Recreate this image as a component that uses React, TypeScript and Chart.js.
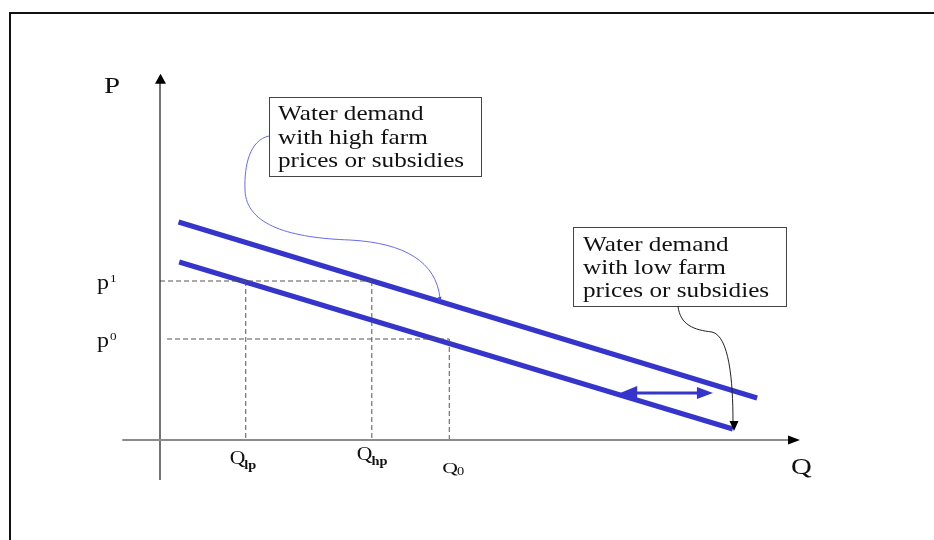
import React, { useEffect, useRef } from "react";
import { Chart, registerables } from "chart.js";

Chart.register(...registerables);

// ---- Data (Q = quantity of water, P = price; arbitrary diagram units) ----
const demandHighQ = [2.9, 93.3];
const demandHighP = [54.5, 10.5];
const demandLowQ = [3.0, 89.5];
const demandLowP = [44.5, 2.75];

const priceLevels = [39.75, 25.25]; // p1, p0
const priceSup = ["1", "0"];
const priceGuideFromQ = [0, 1.1];
const priceGuideToQ = [33.1, 45.2];

const quantityLevels = [13.4, 33.1, 45.2]; // Qlp, Qhp, Q0
const quantitySubs = ["lp", "hp", "0"];
const quantityGuideTopP = [39.75, 39.75, 25.25];

const shiftArrowQ = [71.9, 86.4];
const shiftArrowP = [11.75, 11.75];

const axisQ = [-5.9, 100];
const axisP = [-10, 91.3];

const boxHighText = ["Water demand", "with high farm", "prices or subsidies"];
const boxLowText = ["Water demand", "with low farm", "prices or subsidies"];

// ---- Styling / layout constants ----
const BLUE = "#3535cc";
const FONT = "'Liberation Serif', 'Times New Roman', serif";
const SX = 1.2; // horizontal stretch of the text in the original picture

function zip(qs: number[], ps: number[]) {
  return qs.map((q, i) => ({ x: q, y: ps[i] }));
}

function sText(ctx: CanvasRenderingContext2D, text: string, x: number, y: number, font: string, color = "#111", sx = SX) {
  ctx.save();
  ctx.font = font;
  ctx.fillStyle = color;
  ctx.textBaseline = "alphabetic";
  ctx.textAlign = "left";
  ctx.translate(x, y);
  ctx.scale(sx, 1);
  ctx.fillText(text, 0, 0);
  const w = ctx.measureText(text).width * sx;
  ctx.restore();
  return w;
}

function arrowHead(ctx: CanvasRenderingContext2D, tx: number, ty: number, angle: number, len: number, wid: number, color: string) {
  ctx.save();
  ctx.translate(tx, ty);
  ctx.rotate(angle);
  ctx.beginPath();
  ctx.moveTo(0, 0);
  ctx.lineTo(-len, -wid / 2);
  ctx.lineTo(-len, wid / 2);
  ctx.closePath();
  ctx.fillStyle = color;
  ctx.fill();
  ctx.restore();
}

const qLabelLayout = [
  { dx: -16, y: 464, size: 18, sx: SX, subSize: 12, subBold: true, subDy: 5 },
  { dx: -15, y: 460, size: 18, sx: SX, subSize: 12, subBold: true, subDy: 5 },
  { dx: -7, y: 473, size: 15, sx: 1.45, subSize: 12, subBold: false, subDy: 2 },
];

const diagramPlugin = {
  id: "diagram",
  beforeDraw(chart: any) {
    const ctx = chart.ctx as CanvasRenderingContext2D;
    ctx.save();
    ctx.fillStyle = "#ffffff";
    ctx.fillRect(0, 0, chart.width, chart.height);
    ctx.restore();
  },
  afterDatasetsDraw(chart: any) {
    const ctx = chart.ctx as CanvasRenderingContext2D;
    const xs = chart.scales.x;
    const ys = chart.scales.y;
    const px = (q: number) => xs.getPixelForValue(q);
    const py = (p: number) => ys.getPixelForValue(p);

    // outer frame
    ctx.save();
    ctx.strokeStyle = "#111";
    ctx.lineWidth = 2;
    ctx.beginPath();
    ctx.moveTo(10, chart.height + 2);
    ctx.lineTo(10, 13);
    ctx.lineTo(chart.width + 2, 13);
    ctx.stroke();
    ctx.restore();

    // axis arrowheads
    arrowHead(ctx, px(0) + 0.5, py(axisP[1]) - 1, -Math.PI / 2, 10, 11, "#000");
    arrowHead(ctx, px(axisQ[1]), py(0), 0, 12, 9, "#000");

    // axis titles
    sText(ctx, "P", 104, 93, `24px ${FONT}`);
    sText(ctx, "Q", 791, 474, `24px ${FONT}`);

    // price labels
    priceLevels.forEach((p, i) => {
      const y = py(p);
      const w = sText(ctx, "p", 97, y + 8, `20px ${FONT}`);
      sText(ctx, priceSup[i], 97 + w + 1, y + 1, `11px ${FONT}`);
    });

    // quantity labels
    quantityLevels.forEach((q, i) => {
      const L = qLabelLayout[i];
      const x = px(q) + L.dx;
      const w = sText(ctx, "Q", x, L.y, `${L.size}px ${FONT}`, "#111", L.sx);
      sText(ctx, quantitySubs[i], x + w - 1, L.y + L.subDy, `${L.subBold ? "bold " : ""}${L.subSize}px ${FONT}`);
    });

    // shift arrow heads
    const ay = py(shiftArrowP[0]);
    arrowHead(ctx, px(shiftArrowQ[0]), ay, Math.PI, 17, 14, BLUE);
    arrowHead(ctx, px(shiftArrowQ[1]), ay, 0, 16, 12, BLUE);

    // text boxes
    const drawBox = (x: number, y: number, w: number, h: number, lines: string[], tx: number, baselines: number[]) => {
      ctx.save();
      ctx.fillStyle = "#fff";
      ctx.fillRect(x, y, w, h);
      ctx.strokeStyle = "#444";
      ctx.lineWidth = 1;
      ctx.strokeRect(x + 0.5, y + 0.5, w, h);
      ctx.restore();
      lines.forEach((t, i) => sText(ctx, t, tx, baselines[i], `21px ${FONT}`));
    };
    drawBox(269, 97, 212, 79, boxHighText, 278, [120, 144, 167]);
    drawBox(573, 227, 213, 79, boxLowText, 583, [251, 274, 297]);

    // callout: high demand (blue, thin)
    ctx.save();
    ctx.strokeStyle = "#6a6af0";
    ctx.lineWidth = 1;
    ctx.beginPath();
    ctx.moveTo(269, 136);
    ctx.bezierCurveTo(250, 140, 244, 165, 245, 190);
    ctx.bezierCurveTo(246, 226, 292, 238, 350, 240);
    ctx.bezierCurveTo(405, 243, 436, 262, 440, 298);
    ctx.stroke();
    ctx.restore();
    arrowHead(ctx, 440, 302, Math.PI / 2 - 0.08, 5, 4, "#4a4ae0");

    // callout: low demand (black, thin)
    ctx.save();
    ctx.strokeStyle = "#222";
    ctx.lineWidth = 1;
    ctx.beginPath();
    ctx.moveTo(678, 306);
    ctx.bezierCurveTo(680, 325, 694, 330, 712, 332);
    ctx.bezierCurveTo(729, 336, 733, 380, 733, 422);
    ctx.stroke();
    ctx.restore();
    arrowHead(ctx, 734, 431, Math.PI / 2, 10, 9, "#000");
  },
};

export default function App() {
  const ref = useRef<HTMLCanvasElement | null>(null);

  useEffect(() => {
    if (!ref.current) return;
    const guide = { borderColor: "#555", borderWidth: 1, borderDash: [5, 3], pointRadius: 0, showLine: true, fill: false };
    const datasets: any[] = [];

    // axes
    datasets.push({ data: [{ x: axisQ[0], y: 0 }, { x: axisQ[1] - 1.5, y: 0 }], borderColor: "#8c8c8c", borderWidth: 2, pointRadius: 0, showLine: true });
    datasets.push({ data: [{ x: 0, y: axisP[0] }, { x: 0, y: axisP[1] - 2 }], borderColor: "#2a2a2a", borderWidth: 1.3, pointRadius: 0, showLine: true });

    // guides
    priceLevels.forEach((p, i) => {
      datasets.push({ ...guide, data: [{ x: priceGuideFromQ[i], y: p }, { x: priceGuideToQ[i], y: p }] });
    });
    quantityLevels.forEach((q, i) => {
      datasets.push({ ...guide, data: [{ x: q, y: quantityGuideTopP[i] }, { x: q, y: 0 }] });
    });

    // demand curves
    datasets.push({ data: zip(demandHighQ, demandHighP), borderColor: BLUE, borderWidth: 5, pointRadius: 0, showLine: true, borderCapStyle: "butt" });
    datasets.push({ data: zip(demandLowQ, demandLowP), borderColor: BLUE, borderWidth: 5, pointRadius: 0, showLine: true, borderCapStyle: "butt" });

    // shift arrow shaft
    datasets.push({ data: zip([shiftArrowQ[0] + 2, shiftArrowQ[1] - 2], shiftArrowP), borderColor: BLUE, borderWidth: 3, pointRadius: 0, showLine: true });

    const chart = new Chart(ref.current, {
      type: "scatter",
      data: { datasets },
      options: {
        animation: false,
        responsive: false,
        devicePixelRatio: 1,
        layout: { padding: 0 },
        plugins: { legend: { display: false }, tooltip: { enabled: false }, title: { display: false } },
        elements: { line: { tension: 0 } },
        scales: {
          x: { type: "linear", min: -25, max: 120.9375, display: false },
          y: { type: "linear", min: -25, max: 110, display: false },
        },
      },
      plugins: [diagramPlugin],
    } as any);
    return () => chart.destroy();
  }, []);

  return (
    <div style={{ position: "fixed", left: 0, top: 0, width: 934, height: 540, background: "#fff" }}>
      <canvas ref={ref} width={934} height={540} style={{ display: "block", width: 934, height: 540 }} />
    </div>
  );
}
